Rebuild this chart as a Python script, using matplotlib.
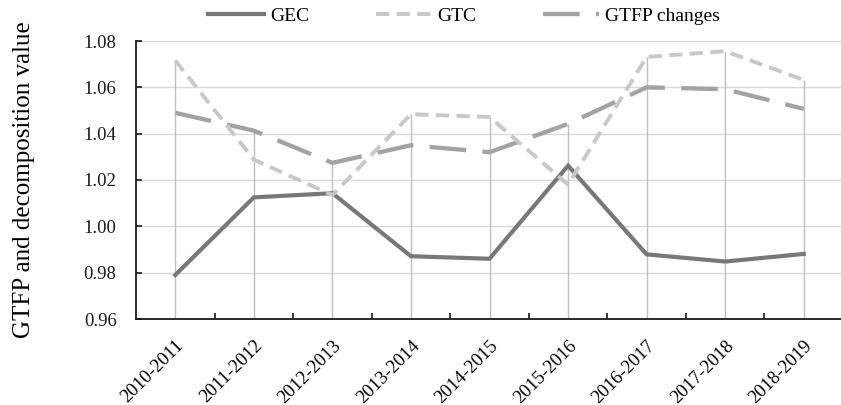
import numpy as np
import matplotlib
matplotlib.use("Agg")
import matplotlib.pyplot as plt
from matplotlib.ticker import FixedLocator

categories = ["2010-2011", "2011-2012", "2012-2013", "2013-2014", "2014-2015",
              "2015-2016", "2016-2017", "2017-2018", "2018-2019"]
gec = [0.979, 1.0125, 1.0143, 0.9871, 0.9860, 1.0262, 0.9879, 0.9848, 0.9881]
gtc = [1.0716, 1.0288, 1.0135, 1.0484, 1.0472, 1.0180, 1.0731, 1.0756, 1.0632]
gtfp = [1.0490, 1.0413, 1.0274, 1.0350, 1.0320, 1.0442, 1.0600, 1.0592, 1.0507]
yticks = [0.96, 0.98, 1.00, 1.02, 1.04, 1.06, 1.08]

plt.rcParams['font.family'] = ['Liberation Serif', 'DejaVu Serif']

W, H = 841, 405
fig = plt.figure(figsize=(W / 100, H / 100), dpi=100)
left, right, top, bottom = 136, 841, 41, 319
ax = fig.add_axes([left / W, 1 - bottom / H, (right - left) / W, (bottom - top) / H])

x = np.arange(len(categories))
ax.set_xlim(-0.5, 8.5 - 2 / 78.5)
ax.set_ylim(0.96, 1.08)

# grid
ax.set_yticks(yticks)
ax.yaxis.grid(True, color='#d9d9d9', lw=1.0)
ax.set_axisbelow(True)

# drop lines
maxes = np.max(np.vstack([gec, gtc, gtfp]), axis=0)
ax.vlines(x, 0.96, maxes, color='#bfbfbf', lw=1.0, zorder=1)

l1, = ax.plot(x, gec, color='#787878', lw=3.0, solid_joinstyle='miter', label='GEC', zorder=3)
l2, = ax.plot(x, gtc, color='#c8c8c8', lw=2.8, dashes=(3.4, 1.9), label='GTC', zorder=3)
l3, = ax.plot(x, gtfp, color='#a3a3a3', lw=3.1, dashes=(8.5, 3.8), label='GTFP changes', zorder=2)

for s in ['top', 'right']:
    ax.spines[s].set_visible(False)
for s in ['left', 'bottom']:
    ax.spines[s].set_linewidth(1.3)
    ax.spines[s].set_color('#1a1a1a')

ax.set_yticklabels([f"{v:.2f}" for v in yticks], fontsize=13.5)
ax.tick_params(axis='y', direction='in', length=4, width=1.2, pad=14, colors='#1a1a1a')

ax.set_xticks(x)
ax.set_xticklabels(categories, fontsize=13.5, rotation=45, ha='right',
                   rotation_mode='anchor')
ax.tick_params(axis='x', which='major', length=0, pad=13)
ax.xaxis.set_minor_locator(FixedLocator(np.arange(0.5, 8.0, 1.0)))
ax.tick_params(axis='x', which='minor', direction='in', length=4, width=1.2, colors='#1a1a1a')

fig.text(24 / W, 1 - 180 / H, 'GTFP and decomposition value', rotation=90,
         fontsize=18, ha='center', va='center')

fig.legend(handles=[l1, l2, l3], loc='center', bbox_to_anchor=(464 / W, 1 - 16 / H),
           ncol=3, frameon=False, fontsize=14, handlelength=2.9, handletextpad=0.3,
           columnspacing=3.4, borderaxespad=0, borderpad=0)

fig.savefig('out.png', dpi=100)
